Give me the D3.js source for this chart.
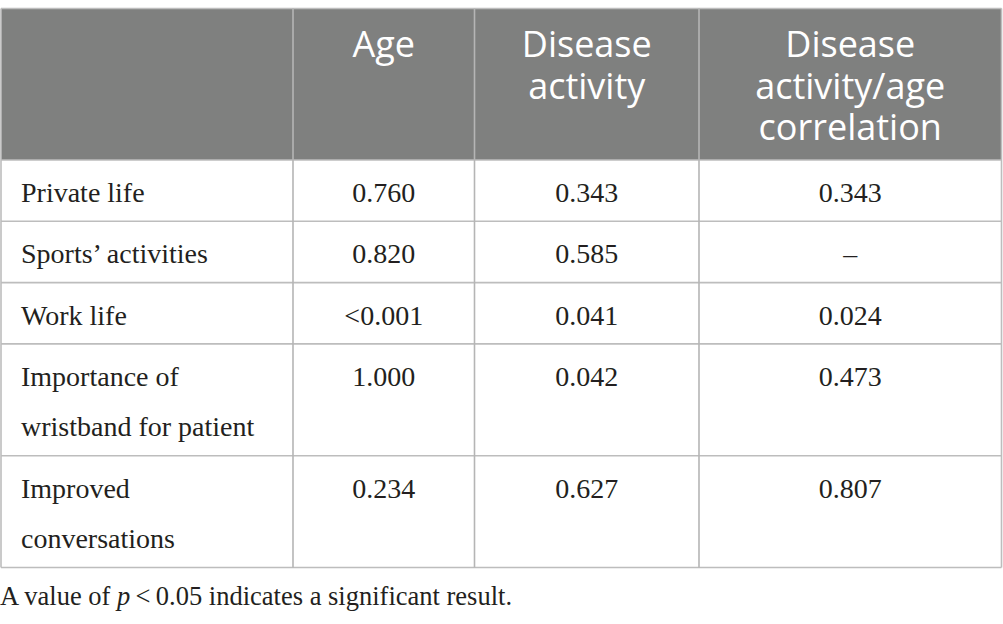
<!DOCTYPE html>
<html>
<head>
<meta charset="utf-8">
<script src="https://cdn.jsdelivr.net/npm/d3@7"></script>
<style>
  body { margin: 0; background: #fff; }
</style>
</head>
<body>
<svg id="chart" width="1003" height="624"></svg>
<script>
// table content
var columns = [["Age"], ["Disease", "activity"], ["Disease", "activity/age", "correlation"]];
var rowLabels = [["Private life"], ["Sports\u2019 activities"], ["Work life"],
                 ["Importance of", "wristband for patient"], ["Improved", "conversations"]];
var ageValues = ["0.760", "0.820", "<0.001", "1.000", "0.234"];
var activityValues = ["0.343", "0.585", "0.041", "0.042", "0.627"];
var correlationValues = ["0.343", "\u2013", "0.024", "0.473", "0.807"];

var svg = d3.select("#chart");

// layout
var colEdges = [1, 293, 474.5, 699, 1001.5];
var tableTop = 8.5, headerHeight = 151.5;
var singleRow = 61.3, extraLine = 50.5;
var borderColor = "#bdbdbd";

var xScale = d3.scaleOrdinal().domain([0, 1, 2, 3]).range(colEdges.slice(0, 4));
var colWidth = function(i) { return colEdges[i + 1] - colEdges[i]; };

// row boundaries from number of lines
var rowTops = [];
var y = tableTop + headerHeight;
rowLabels.forEach(function(lines) {
    rowTops.push(y);
    y += singleRow + (lines.length - 1) * extraLine;
});
var tableBottom = y;

// header background
svg.append("rect")
    .attr("x", colEdges[0])
    .attr("y", tableTop)
    .attr("width", colEdges[4] - colEdges[0])
    .attr("height", headerHeight)
    .attr("fill", "#7f807f");

// header text
columns.forEach(function(lines, i) {
    var t = svg.append("text")
        .attr("x", xScale(i + 1) + colWidth(i + 1) / 2)
        .attr("y", tableTop + 48.5)
        .attr("text-anchor", "middle")
        .attr("font-family", "'Open Sans', sans-serif")
        .attr("font-size", "36px")
        .attr("fill", "#ffffff");
    lines.forEach(function(l, k) {
        t.append("tspan")
            .attr("x", xScale(i + 1) + colWidth(i + 1) / 2)
            .attr("dy", k == 0 ? 0 : 41.5)
            .text(l);
    });
});

// body cells
var body = rowLabels.map(function(lab, r) {
    return [lab, [ageValues[r]], [activityValues[r]], [correlationValues[r]]];
});

body.forEach(function(row, r) {
    row.forEach(function(lines, c) {
        var t = svg.append("text")
            .attr("y", rowTops[r] + 42)
            .attr("font-family", "'Liberation Serif', serif")
            .attr("font-size", "28px")
            .attr("fill", "#231f20")
            .attr("text-anchor", c == 0 ? "start" : "middle");
        var tx = c == 0 ? colEdges[0] + 20 : xScale(c) + colWidth(c) / 2;
        lines.forEach(function(l, k) {
            t.append("tspan")
                .attr("x", tx)
                .attr("dy", k == 0 ? 0 : extraLine)
                .text(l);
        });
    });
});

// grid lines
var hLines = [tableTop, tableTop + headerHeight].concat(rowTops.slice(1)).concat([tableBottom]);
svg.append("g").selectAll("line.h")
    .data(hLines)
    .enter().append("line")
    .attr("x1", colEdges[0])
    .attr("x2", colEdges[4])
    .attr("y1", function(d) { return d; })
    .attr("y2", function(d) { return d; })
    .attr("stroke", borderColor)
    .attr("stroke-width", 1.6);

svg.append("g").selectAll("line.v")
    .data(colEdges)
    .enter().append("line")
    .attr("x1", function(d) { return d; })
    .attr("x2", function(d) { return d; })
    .attr("y1", tableTop)
    .attr("y2", tableBottom)
    .attr("stroke", function(d, i) { return (i == 0 || i == 4) ? borderColor : "#b5b5b5"; })
    .attr("stroke-width", 1.6);

// footnote
var note = svg.append("text")
    .attr("x", 0)
    .attr("y", 605)
    .attr("font-family", "'Liberation Serif', serif")
    .attr("font-size", "26.5px")
    .attr("fill", "#231f20");
note.append("tspan").text("A value of ");
note.append("tspan").attr("font-style", "italic").text("p");
note.append("tspan").text("\u2009<\u20090.05 indicates a significant result.");
</script>
</body>
</html>
